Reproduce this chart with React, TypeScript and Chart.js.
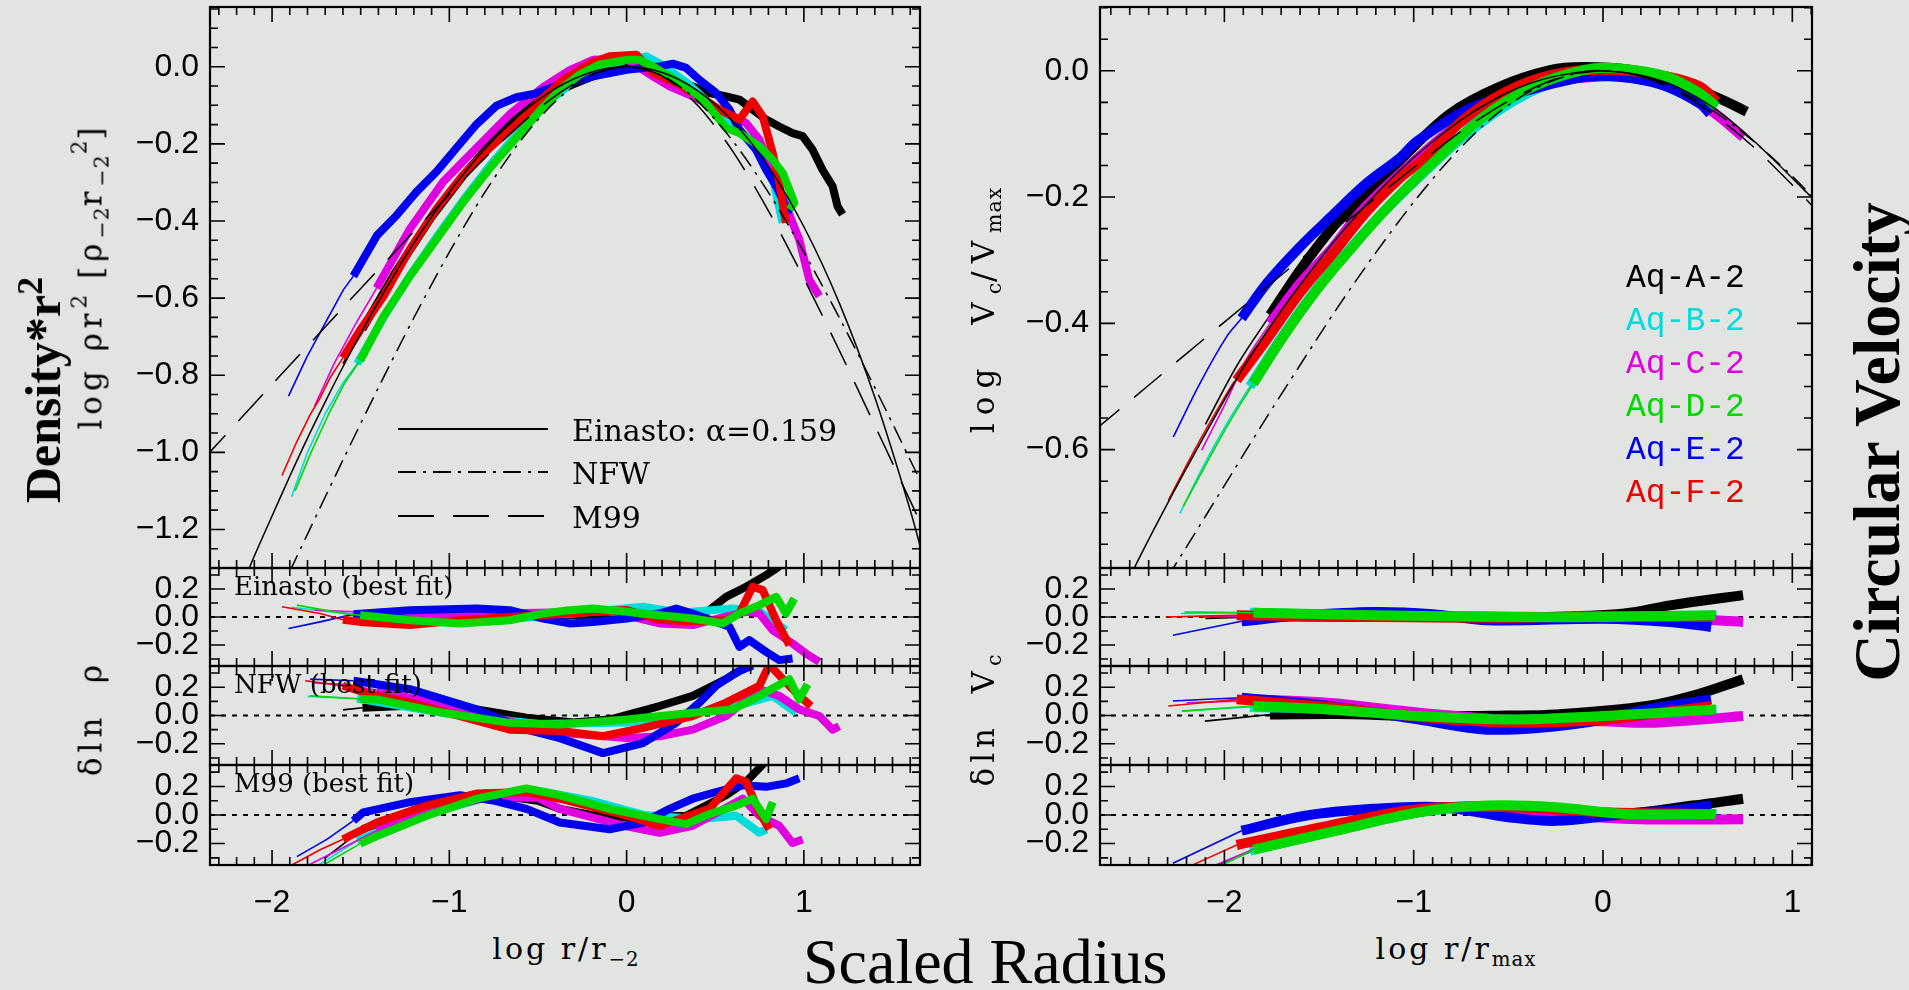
import React, { useEffect, useRef } from "react";
import { Chart, registerables } from "chart.js";

Chart.register(...registerables);

type P = [number, number];

// ---------------- categories & styling keys ----------------
const haloNames = ["Aq-A-2", "Aq-B-2", "Aq-C-2", "Aq-D-2", "Aq-E-2", "Aq-F-2"];
const haloColors = ["#000000", "#00dcdc", "#e000e0", "#00d800", "#0000ee", "#ee0000"];
const drawOrder = [0, 1, 2, 4, 5, 3];

// ---------------- tick labels ----------------
const xTickValues = [-2, -1, 0, 1];
const densTickValues = [-1.2, -1.0, -0.8, -0.6, -0.4, -0.2, 0.0];
const velTickValues = [-0.6, -0.4, -0.2, 0.0];
const residTickValues = [-0.2, 0.0, 0.2];

// radius where each halo's curve turns from thin to thick
const splitRho = [-1.49, -1.52, -1.41, -1.503, -1.541, -1.6];
const splitVel = [-1.759, -1.865, -1.759, -1.847, -1.909, -1.935];

// ---------------- left column: log rho r^2 vs log r/r-2 ----------------
const densA: P[] = [[-1.6,-0.77],[-1.49,-0.68],[-1.3,-0.53],[-1.1,-0.39],[-0.9,-0.27],[-0.7,-0.165],[-0.5,-0.09],[-0.377,-0.06],[-0.19,-0.025],[0,0.005],[0.186,-0.016],[0.373,-0.051],[0.467,-0.068],[0.561,-0.077],[0.636,-0.085],[0.711,-0.111],[0.787,-0.137],[0.861,-0.155],[0.936,-0.172],[0.993,-0.18],[1.049,-0.215],[1.105,-0.267],[1.162,-0.31],[1.19,-0.362],[1.218,-0.383]];
const densB: P[] = [[-1.89,-1.115],[-1.8,-1.0],[-1.7,-0.9],[-1.6,-0.82],[-1.52,-0.77],[-1.37,-0.65],[-1.22,-0.54],[-1.07,-0.44],[-0.92,-0.345],[-0.77,-0.255],[-0.62,-0.175],[-0.47,-0.1],[-0.3,-0.04],[-0.15,0.0],[0,0.018],[0.111,0.027],[0.2,0.005],[0.35,-0.045],[0.5,-0.11],[0.65,-0.17],[0.75,-0.215],[0.83,-0.3],[0.88,-0.405]];
const densC: P[] = [[-1.76,-0.88],[-1.65,-0.77],[-1.52,-0.66],[-1.41,-0.574],[-1.222,-0.42],[-1.034,-0.298],[-0.846,-0.21],[-0.659,-0.123],[-0.471,-0.053],[-0.321,-0.009],[-0.19,0.018],[0,0.02],[0.148,-0.025],[0.242,-0.051],[0.373,-0.077],[0.524,-0.111],[0.674,-0.146],[0.749,-0.189],[0.824,-0.275],[0.899,-0.362],[0.974,-0.448],[1.03,-0.552],[1.087,-0.595]];
const densD: P[] = [[-1.87,-1.1],[-1.78,-1.0],[-1.68,-0.9],[-1.59,-0.82],[-1.503,-0.762],[-1.372,-0.648],[-1.222,-0.543],[-1.072,-0.447],[-0.922,-0.351],[-0.771,-0.263],[-0.621,-0.184],[-0.471,-0.105],[-0.377,-0.06],[-0.265,-0.02],[-0.152,0.006],[0,0.018],[0.073,0.018],[0.148,0.001],[0.242,-0.025],[0.336,-0.051],[0.43,-0.085],[0.524,-0.137],[0.561,-0.159],[0.636,-0.172],[0.749,-0.206],[0.824,-0.241],[0.88,-0.275],[0.918,-0.319],[0.946,-0.353],[0.918,-0.37]];
const densE: P[] = [[-1.907,-0.854],[-1.804,-0.753],[-1.691,-0.657],[-1.597,-0.578],[-1.541,-0.543],[-1.409,-0.438],[-1.297,-0.385],[-1.184,-0.324],[-1.072,-0.272],[-0.959,-0.21],[-0.846,-0.149],[-0.734,-0.101],[-0.621,-0.079],[-0.518,-0.07],[-0.43,-0.055],[-0.3,-0.04],[-0.19,-0.025],[0,-0.008],[0.186,0.001],[0.261,0.008],[0.336,-0.003],[0.411,-0.034],[0.505,-0.068],[0.58,-0.111],[0.636,-0.163],[0.73,-0.215],[0.787,-0.267],[0.843,-0.31],[0.899,-0.362],[0.937,-0.375]];
const densF: P[] = [[-1.944,-1.06],[-1.86,-0.972],[-1.785,-0.902],[-1.729,-0.859],[-1.672,-0.806],[-1.6,-0.755],[-1.503,-0.683],[-1.372,-0.596],[-1.222,-0.473],[-1.072,-0.368],[-0.922,-0.28],[-0.771,-0.21],[-0.621,-0.149],[-0.508,-0.096],[-0.359,-0.035],[-0.2,0.01],[-0.096,0.027],[0.055,0.031],[0.148,-0.016],[0.28,-0.042],[0.411,-0.077],[0.524,-0.111],[0.636,-0.137],[0.711,-0.09],[0.768,-0.129],[0.824,-0.224],[0.861,-0.301],[0.899,-0.405]];

const einastoRho: P[] = [[-2.2,-1.378],[-2.1,-1.269],[-2.0,-1.165],[-1.9,-1.062],[-1.8,-0.963],[-1.7,-0.869],[-1.6,-0.778],[-1.5,-0.692],[-1.4,-0.609],[-1.3,-0.531],[-1.2,-0.457],[-1.0,-0.325],[-0.8,-0.213],[-0.6,-0.123],[-0.4,-0.056],[-0.2,-0.014],[0,0],[0.2,-0.015],[0.4,-0.062],[0.6,-0.142],[0.8,-0.259],[1.0,-0.415],[1.2,-0.613],[1.4,-0.857],[1.6,-1.15],[1.7,-1.32]];
const nfwRho: P[] = [[-1.9,-1.309],[-1.8,-1.212],[-1.6,-1.02],[-1.4,-0.832],[-1.2,-0.651],[-1.0,-0.481],[-0.8,-0.326],[-0.6,-0.193],[-0.4,-0.089],[-0.2,-0.023],[0,0],[0.2,-0.023],[0.4,-0.089],[0.6,-0.193],[0.8,-0.326],[1.0,-0.481],[1.2,-0.651],[1.4,-0.832],[1.6,-1.02],[1.7,-1.115]];
const m99Rho: P[] = [[-2.4,-1.024],[-2.0,-0.824],[-1.6,-0.625],[-1.2,-0.427],[-1.0,-0.331],[-0.8,-0.237],[-0.6,-0.15],[-0.4,-0.075],[-0.2,-0.021],[0,0],[0.2,-0.024],[0.4,-0.1],[0.6,-0.22],[0.8,-0.374],[1.0,-0.549],[1.2,-0.736],[1.4,-0.93],[1.6,-1.126],[1.7,-1.224]];

// residuals, left column (delta ln rho)
const einResA: P[] = [[-1.6,0.03],[-1.49,0.0],[-1.0,-0.01],[-0.5,0.01],[0,0.02],[0.373,0.0],[0.467,0.049],[0.561,0.144],[0.674,0.216],[0.787,0.299],[0.843,0.346],[0.9,0.4]];
const einResB: P[] = [[-1.89,0.07],[-1.7,0.04],[-1.52,0.02],[-1.0,-0.03],[-0.5,0.0],[0.092,0.073],[0.3,0.03],[0.6,0.06],[0.75,0.04],[0.899,-0.094]];
const einResC: P[] = [[-1.76,0.05],[-1.41,0.03],[-1.0,0.02],[-0.5,0.03],[-0.1,0.04],[0.186,-0.046],[0.373,-0.058],[0.55,0.0],[0.674,0.037],[0.749,0.025],[0.824,-0.094],[0.936,-0.189],[1.012,-0.261],[1.087,-0.32]];
const einResD: P[] = [[-1.86,0.085],[-1.597,0.025],[-1.503,0.013],[-1.222,-0.023],[-0.94,-0.046],[-0.659,-0.023],[-0.471,0.025],[-0.321,0.049],[-0.19,0.061],[0,0.037],[0.186,0.013],[0.373,-0.011],[0.542,-0.046],[0.636,0.025],[0.749,0.085],[0.843,0.144],[0.899,0.025],[0.946,0.132]];
const einResE: P[] = [[-1.907,-0.082],[-1.729,-0.035],[-1.541,0.02],[-1.222,0.049],[-0.846,0.061],[-0.659,0.049],[-0.471,-0.011],[-0.321,-0.046],[-0.19,-0.035],[0,-0.011],[0.186,0.025],[0.28,0.061],[0.373,0.025],[0.505,-0.035],[0.58,-0.07],[0.636,-0.213],[0.692,-0.165],[0.787,-0.249],[0.861,-0.308],[0.936,-0.296]];
const einResF: P[] = [[-1.944,0.073],[-1.729,0.025],[-1.6,-0.02],[-1.503,-0.035],[-1.222,-0.058],[-0.94,-0.023],[-0.659,0.0],[-0.321,0.025],[0,0.05],[0.186,-0.02],[0.373,-0.03],[0.561,-0.023],[0.636,0.025],[0.711,0.216],[0.768,0.192],[0.843,-0.023],[0.918,-0.201]];

const nfwResA: P[] = [[-1.6,0.04],[-1.49,0.055],[-1.2,0.07],[-0.846,0.043],[-0.565,-0.016],[-0.3,-0.05],[-0.096,-0.029],[0.186,0.067],[0.373,0.139],[0.561,0.257],[0.655,0.329],[0.72,0.4]];
const nfwResB: P[] = [[-1.8,0.135],[-1.52,0.12],[-1.0,0.01],[-0.5,-0.06],[0,-0.05],[0.4,0.02],[0.6,0.06],[0.824,0.139],[0.956,0.019]];
const nfwResC: P[] = [[-1.76,0.23],[-1.597,0.22],[-1.41,0.18],[-1.0,0.06],[-0.6,-0.06],[-0.3,-0.13],[0,-0.16],[0.186,-0.147],[0.373,-0.1],[0.561,-0.004],[0.749,0.186],[0.861,0.139],[0.974,0.043],[1.087,-0.004],[1.162,-0.1],[1.199,-0.076]];
const nfwResD: P[] = [[-1.785,0.139],[-1.503,0.117],[-1.409,0.114],[-1.034,0.019],[-0.659,-0.052],[-0.377,-0.064],[0,-0.029],[0.373,0.019],[0.599,0.043],[0.749,0.139],[0.918,0.257],[0.974,0.114],[1.021,0.221]];
const nfwResE: P[] = [[-1.785,0.257],[-1.541,0.246],[-1.222,0.186],[-0.846,0.043],[-0.565,-0.1],[-0.377,-0.16],[-0.133,-0.266],[0.092,-0.195],[0.28,-0.052],[0.411,0.091],[0.505,0.21],[0.618,0.305],[0.711,0.353]];
const nfwResF: P[] = [[-1.813,0.246],[-1.6,0.21],[-1.447,0.15],[-1.222,0.091],[-0.94,-0.004],[-0.659,-0.1],[-0.377,-0.11],[-0.133,-0.147],[0.092,-0.088],[0.373,-0.004],[0.561,0.091],[0.749,0.21],[0.805,0.36],[0.899,0.234],[0.974,0.139],[1.04,0.067]];

const m99ResA: P[] = [[-1.7,-0.3],[-1.49,-0.1],[-1.1,0.08],[-0.8,0.15],[-0.5,0.1],[-0.377,0.043],[-0.2,0.0],[0,-0.02],[0.336,-0.005],[0.561,0.138],[0.674,0.233],[0.749,0.329],[0.78,0.37]];
const m99ResB: P[] = [[-1.75,-0.36],[-1.52,-0.18],[-1.2,-0.02],[-0.8,0.12],[-0.5,0.17],[-0.2,0.1],[0.1,0.0],[0.4,-0.03],[0.618,-0.005],[0.749,-0.124],[0.79,-0.1]];
const m99ResC: P[] = [[-1.81,-0.36],[-1.41,-0.11],[-1.1,0.03],[-0.8,0.12],[-0.5,0.12],[-0.377,0.043],[0,-0.08],[0.186,-0.124],[0.373,-0.076],[0.655,0.114],[0.749,-0.005],[0.861,-0.076],[0.936,-0.196],[0.993,-0.171]];
const m99ResD: P[] = [[-1.71,-0.35],[-1.503,-0.2],[-1.409,-0.148],[-1.128,-0.005],[-0.846,0.114],[-0.565,0.186],[-0.377,0.138],[-0.096,0.043],[0.186,-0.029],[0.336,-0.064],[0.467,0.007],[0.618,0.066],[0.711,0.114],[0.787,-0.029],[0.824,0.09]];
const m99ResE: P[] = [[-1.86,-0.291],[-1.691,-0.171],[-1.541,-0.04],[-1.485,0.019],[-1.222,0.09],[-0.94,0.138],[-0.753,0.102],[-0.565,0.043],[-0.377,-0.053],[-0.096,-0.1],[0.092,-0.053],[0.242,0.043],[0.373,0.114],[0.505,0.161],[0.655,0.209],[0.787,0.197],[0.899,0.221],[0.974,0.257]];
const m99ResF: P[] = [[-1.888,-0.35],[-1.729,-0.243],[-1.6,-0.17],[-1.409,-0.053],[-1.128,0.066],[-0.846,0.15],[-0.565,0.161],[-0.377,0.114],[0,-0.005],[0.186,-0.076],[0.467,0.043],[0.618,0.257],[0.674,0.233],[0.749,0.019],[0.805,-0.1]];

// ---------------- right column: log Vc/Vmax vs log r/rmax ----------------
const velA: P[] = [[-2.1,-0.56],[-1.93,-0.465],[-1.759,-0.387],[-1.601,-0.316],[-1.425,-0.247],[-1.337,-0.222],[-1.248,-0.198],[-1.072,-0.142],[-0.808,-0.068],[-0.544,-0.025],[-0.28,0.001],[-0.104,0.006],[0.16,0.001],[0.336,-0.012],[0.512,-0.031],[0.653,-0.049],[0.759,-0.065]];
const velB: P[] = [[-2.235,-0.701],[-2.1,-0.62],[-1.98,-0.555],[-1.865,-0.5],[-1.689,-0.418],[-1.512,-0.345],[-1.337,-0.282],[-1.161,-0.224],[-0.984,-0.172],[-0.72,-0.1],[-0.456,-0.045],[-0.192,-0.01],[0,0.0],[0.2,-0.005],[0.4,-0.022],[0.6,-0.058]];
const velC: P[] = [[-2.12,-0.601],[-2.0,-0.53],[-1.88,-0.455],[-1.759,-0.4],[-1.601,-0.337],[-1.425,-0.279],[-1.284,-0.225],[-1.072,-0.163],[-0.72,-0.075],[-0.4,-0.025],[-0.016,-0.009],[0.16,-0.012],[0.336,-0.023],[0.565,-0.062],[0.741,-0.105]];
const velD: P[] = [[-2.217,-0.69],[-2.1,-0.625],[-1.98,-0.56],[-1.847,-0.495],[-1.689,-0.421],[-1.512,-0.347],[-1.337,-0.284],[-1.161,-0.224],[-0.984,-0.17],[-0.896,-0.145],[-0.632,-0.073],[-0.368,-0.025],[-0.104,0.001],[0.072,0.004],[0.336,-0.009],[0.512,-0.036],[0.6,-0.057]];
const velE: P[] = [[-2.27,-0.58],[-2.129,-0.495],[-1.988,-0.421],[-1.909,-0.392],[-1.777,-0.337],[-1.601,-0.279],[-1.425,-0.228],[-1.248,-0.178],[-1.072,-0.138],[-0.984,-0.112],[-0.72,-0.062],[-0.456,-0.036],[-0.192,-0.015],[-0.016,-0.008],[0.16,-0.012],[0.336,-0.025],[0.512,-0.052],[0.565,-0.068]];
const velF: P[] = [[-2.296,-0.68],[-2.129,-0.585],[-1.955,-0.495],[-1.935,-0.49],[-1.777,-0.426],[-1.601,-0.352],[-1.425,-0.289],[-1.248,-0.223],[-1.072,-0.17],[-0.94,-0.138],[-0.72,-0.073],[-0.456,-0.025],[-0.192,-0.002],[0.072,0.001],[0.336,-0.009],[0.512,-0.025],[0.6,-0.049]];

const einastoVel: P[] = [[-2.55,-0.84],[-2.48,-0.79],[-2.3,-0.685],[-2.1,-0.575],[-1.9,-0.47],[-1.7,-0.38],[-1.5,-0.3],[-1.3,-0.228],[-1.1,-0.165],[-0.9,-0.112],[-0.7,-0.068],[-0.5,-0.034],[-0.3,-0.012],[-0.1,-0.001],[0,0],[0.2,-0.007],[0.4,-0.027],[0.6,-0.062],[0.8,-0.112],[1.0,-0.17],[1.15,-0.215]];
const nfwVel: P[] = [[-2.4,-0.85],[-2.2,-0.754],[-2.0,-0.657],[-1.8,-0.56],[-1.6,-0.466],[-1.4,-0.374],[-1.2,-0.288],[-1.0,-0.208],[-0.8,-0.137],[-0.6,-0.078],[-0.4,-0.035],[-0.2,-0.009],[0,0],[0.2,-0.008],[0.4,-0.031],[0.6,-0.067],[0.8,-0.113],[1.0,-0.167],[1.15,-0.213]];
const m99Vel: P[] = [[-2.7,-0.573],[-2.4,-0.498],[-2.0,-0.398],[-1.6,-0.299],[-1.2,-0.201],[-0.8,-0.107],[-0.6,-0.066],[-0.4,-0.032],[-0.2,-0.008],[0,0],[0.2,-0.009],[0.4,-0.034],[0.6,-0.073],[0.8,-0.122],[1.0,-0.181],[1.15,-0.228]];

// residuals, right column (delta ln Vc)
const einVresA: P[] = [[-2.1,-0.01],[-1.759,0.005],[-1.0,0.0],[-0.3,0.0],[0.113,0.025],[0.354,0.083],[0.74,0.156]];
const einVresB: P[] = [[-2.23,0.025],[-1.865,0.03],[-1.2,0.01],[-0.5,0.0],[0,0.005],[0.6,0.01]];
const einVresC: P[] = [[-2.12,0.0],[-1.759,0.005],[-1.0,0.005],[-0.3,0.0],[0.3,-0.01],[0.595,-0.024],[0.74,-0.035]];
const einVresD: P[] = [[-2.211,0.036],[-1.847,0.03],[-1.212,0.013],[-0.489,0.0],[0,0.0],[0.595,0.013]];
const einVresE: P[] = [[-2.272,-0.13],[-1.909,-0.03],[-1.6,0.01],[-1.212,0.036],[-0.9,0.02],[-0.61,-0.024],[0,-0.012],[0.354,-0.035],[0.571,-0.071]];
const einVresF: P[] = [[-2.308,0.0],[-1.935,0.013],[-1.2,0.0],[-0.5,-0.005],[0,0.005],[0.571,0.0]];

const nfwVresA: P[] = [[-2.103,-0.04],[-1.759,0.007],[-1.4,0.01],[-0.971,-0.004],[-0.5,0.0],[-0.248,0.007],[0.233,0.067],[0.5,0.15],[0.74,0.257]];
const nfwVresB: P[] = [[-2.224,0.031],[-1.865,0.06],[-1.45,0.045],[-0.97,0.0],[-0.49,-0.03],[0,-0.01],[0.6,0.04]];
const nfwVresC: P[] = [[-2.2,0.09],[-1.759,0.11],[-1.453,0.09],[-0.971,0.02],[-0.489,-0.03],[0,-0.04],[0.233,-0.052],[0.5,-0.03],[0.74,-0.004]];
const nfwVresD: P[] = [[-2.224,0.031],[-1.847,0.067],[-1.453,0.043],[-0.971,-0.004],[-0.489,-0.029],[0,-0.004],[0.595,0.043]];
const nfwVresE: P[] = [[-2.272,0.103],[-1.909,0.126],[-1.453,0.067],[-0.971,-0.029],[-0.61,-0.1],[-0.248,-0.076],[0,-0.029],[0.233,0.043],[0.571,0.114]];
const nfwVresF: P[] = [[-2.296,0.067],[-1.935,0.114],[-1.45,0.06],[-0.97,-0.01],[-0.49,-0.05],[0,-0.03],[0.3,0.02],[0.571,0.067]];

const m99VresA: P[] = [[-2.05,-0.36],[-1.759,-0.2],[-1.45,-0.1],[-1.0,0.03],[-0.6,0.06],[-0.2,0.03],[0.113,0.01],[0.474,0.066],[0.74,0.114]];
const m99VresB: P[] = [[-2.03,-0.36],[-1.865,-0.25],[-1.45,-0.12],[-0.97,0.02],[-0.6,0.06],[-0.25,0.05],[0.1,0.01],[0.6,0.007]];
const m99VresC: P[] = [[-2.067,-0.362],[-1.759,-0.19],[-1.45,-0.09],[-1.0,0.03],[-0.6,0.06],[-0.2,0.0],[0.2,-0.03],[0.74,-0.029]];
const m99VresD: P[] = [[-2.031,-0.362],[-1.847,-0.243],[-1.453,-0.124],[-0.971,0.019],[-0.61,0.066],[-0.248,0.054],[0.113,0.007],[0.595,0.007]];
const m99VresE: P[] = [[-2.272,-0.338],[-1.909,-0.11],[-1.573,-0.005],[-1.212,0.043],[-0.85,0.054],[-0.489,-0.017],[-0.248,-0.041],[0.113,0.007],[0.354,0.031],[0.571,0.066]];
const m99VresF: P[] = [[-2.188,-0.362],[-1.935,-0.21],[-1.453,-0.076],[-0.971,0.043],[-0.489,0.054],[0,0.019],[0.571,0.007]];

// ---------------- layout / style ----------------
const BG = "#e2e4e1";
const NFW_DASH = [18, 7, 3, 7];
const M99_DASH = [36, 19];
const YW = 160, XH = 62, TP = 3, RP = 4, BP = 3;

interface ModelLine { pts: P[]; dash: number[]; }
interface PanelSpec {
  key: string;
  fx: number; fy: number; fw: number; fh: number;
  xMin: number; xMax: number; yMin: number; yMax: number;
  xLabels: number[] | null;
  yLabels: number[];
  yMinor: number; yMajor: number;
  halos: P[][];
  splits: number[];
  thickW: number;
  tension: number;
  models: ModelLine[];
  zero: boolean;
  corner?: string;
  legend?: "models" | "halos";
}

const LX0 = 210, LW = 710, RX0 = 1100, RW = 712;
const LXR: [number, number] = [-2.35, 1.655];
const RXR: [number, number] = [-2.657, 1.104];
const ROWS = [
  { fy: 7, fh: 561 },
  { fy: 568, fh: 98 },
  { fy: 666, fh: 99 },
  { fy: 765, fh: 100 },
];

const residBase = { yMin: -0.35, yMax: 0.35, yLabels: residTickValues, yMinor: 0.1, yMajor: 0.2, zero: true, models: [] as ModelLine[] };

const PANELS: PanelSpec[] = [
  {
    key: "rho", fx: LX0, fy: ROWS[0].fy, fw: LW, fh: ROWS[0].fh, xMin: LXR[0], xMax: LXR[1],
    yMin: -1.3, yMax: 0.155, xLabels: null, yLabels: densTickValues, yMinor: 0.05, yMajor: 0.2,
    halos: [densA, densB, densC, densD, densE, densF], splits: splitRho, thickW: 8, tension: 0,
    models: [{ pts: einastoRho, dash: [] }, { pts: nfwRho, dash: NFW_DASH }, { pts: m99Rho, dash: M99_DASH }],
    zero: false, legend: "models",
  },
  {
    ...residBase, key: "rhoEin", fx: LX0, fy: ROWS[1].fy, fw: LW, fh: ROWS[1].fh, xMin: LXR[0], xMax: LXR[1], xLabels: null,
    halos: [einResA, einResB, einResC, einResD, einResE, einResF], splits: splitRho, thickW: 8, tension: 0, corner: "Einasto (best fit)",
  },
  {
    ...residBase, key: "rhoNfw", fx: LX0, fy: ROWS[2].fy, fw: LW, fh: ROWS[2].fh, xMin: LXR[0], xMax: LXR[1], xLabels: null,
    halos: [nfwResA, nfwResB, nfwResC, nfwResD, nfwResE, nfwResF], splits: splitRho, thickW: 8, tension: 0, corner: "NFW (best fit)",
  },
  {
    ...residBase, key: "rhoM99", fx: LX0, fy: ROWS[3].fy, fw: LW, fh: ROWS[3].fh, xMin: LXR[0], xMax: LXR[1], xLabels: xTickValues,
    halos: [m99ResA, m99ResB, m99ResC, m99ResD, m99ResE, m99ResF], splits: splitRho, thickW: 8, tension: 0, corner: "M99 (best fit)",
  },
  {
    key: "vel", fx: RX0, fy: ROWS[0].fy, fw: RW, fh: ROWS[0].fh, xMin: RXR[0], xMax: RXR[1],
    yMin: -0.7875, yMax: 0.101, xLabels: null, yLabels: velTickValues, yMinor: 0.05, yMajor: 0.2,
    halos: [velA, velB, velC, velD, velE, velF], splits: splitVel, thickW: 10, tension: 0.35,
    models: [{ pts: einastoVel, dash: [] }, { pts: nfwVel, dash: NFW_DASH }, { pts: m99Vel, dash: M99_DASH }],
    zero: false, legend: "halos",
  },
  {
    ...residBase, key: "velEin", fx: RX0, fy: ROWS[1].fy, fw: RW, fh: ROWS[1].fh, xMin: RXR[0], xMax: RXR[1], xLabels: null,
    halos: [einVresA, einVresB, einVresC, einVresD, einVresE, einVresF], splits: splitVel, thickW: 10, tension: 0.35,
  },
  {
    ...residBase, key: "velNfw", fx: RX0, fy: ROWS[2].fy, fw: RW, fh: ROWS[2].fh, xMin: RXR[0], xMax: RXR[1], xLabels: null,
    halos: [nfwVresA, nfwVresB, nfwVresC, nfwVresD, nfwVresE, nfwVresF], splits: splitVel, thickW: 10, tension: 0.35,
  },
  {
    ...residBase, key: "velM99", fx: RX0, fy: ROWS[3].fy, fw: RW, fh: ROWS[3].fh, xMin: RXR[0], xMax: RXR[1], xLabels: xTickValues,
    halos: [m99VresA, m99VresB, m99VresC, m99VresD, m99VresE, m99VresF], splits: splitVel, thickW: 10, tension: 0.35,
  },
];

function geom(p: PanelSpec) {
  return { left: p.fx - YW, top: p.fy - TP, w: p.fw + YW + RP, h: p.fh + TP + (p.xLabels ? XH : BP) };
}

function splitThin(pts: P[], s: number): [P[], P[]] {
  let k = pts.findIndex((p) => p[0] >= s - 1e-6);
  if (k < 0) k = pts.length - 1;
  return [pts.slice(0, k + 1), pts.slice(k)];
}

const toXY = (pts: P[]) => pts.map(([x, y]) => ({ x, y }));

function fmtNum(v: number, digits: number) {
  const a = Math.abs(v) < 1e-9 ? 0 : v;
  return (a < 0 ? "\u2212" : "") + Math.abs(a).toFixed(digits);
}

function forSteps(min: number, max: number, step: number, fn: (v: number) => void) {
  const k0 = Math.ceil(min / step - 1e-6), k1 = Math.floor(max / step + 1e-6);
  for (let k = k0; k <= k1; k++) fn(k * step);
}
const isMultiple = (v: number, m: number) => Math.abs(v / m - Math.round(v / m)) < 1e-6;

function framePlugin(spec: PanelSpec) {
  return {
    id: "frame_" + spec.key,
    afterDatasetsDraw(chart: any) {
      const { ctx, chartArea: a } = chart;
      const xs = chart.scales.x, ys = chart.scales.y;
      ctx.save();
      ctx.strokeStyle = "#000";
      ctx.lineWidth = 1.6;
      ctx.setLineDash([]);
      ctx.beginPath();
      forSteps(xs.min, xs.max, 0.1, (v) => {
        const L = isMultiple(v, 1) ? 15 : 8;
        const px = xs.getPixelForValue(v);
        ctx.moveTo(px, a.bottom); ctx.lineTo(px, a.bottom - L);
        ctx.moveTo(px, a.top); ctx.lineTo(px, a.top + L);
      });
      forSteps(ys.min, ys.max, spec.yMinor, (v) => {
        const L = isMultiple(v, spec.yMajor) ? 15 : 8;
        const py = ys.getPixelForValue(v);
        ctx.moveTo(a.left, py); ctx.lineTo(a.left + L, py);
        ctx.moveTo(a.right, py); ctx.lineTo(a.right - L, py);
      });
      ctx.stroke();
      ctx.lineWidth = 2.2;
      ctx.strokeRect(a.left, a.top, a.right - a.left, a.bottom - a.top);

      ctx.fillStyle = "#000";
      ctx.textBaseline = "alphabetic";
      ctx.textAlign = "left";
      if (spec.corner) {
        ctx.font = '26px "DejaVu Serif"';
        ctx.fillText(spec.corner, a.left + 24, a.top + 27);
      }
      if (spec.legend === "models") {
        const items = [
          { dy: 422, dash: [] as number[], text: "Einasto: \u03b1=0.159" },
          { dy: 465, dash: NFW_DASH, text: "NFW" },
          { dy: 509, dash: M99_DASH, text: "M99" },
        ];
        ctx.font = '30px "DejaVu Serif"';
        for (const it of items) {
          ctx.lineWidth = 1.8;
          ctx.setLineDash(it.dash);
          ctx.beginPath();
          ctx.moveTo(a.left + 188, a.top + it.dy);
          ctx.lineTo(a.left + 338, a.top + it.dy);
          ctx.stroke();
          ctx.setLineDash([]);
          ctx.fillText(it.text, a.left + 362, a.top + it.dy + 12);
        }
      }
      if (spec.legend === "halos") {
        ctx.font = '33px "Liberation Mono"';
        haloNames.forEach((n, i) => {
          ctx.fillStyle = haloColors[i];
          ctx.fillText(n, a.left + 526, a.top + 280 + i * 43);
        });
      }
      ctx.restore();
    },
  };
}

function lineDs(pts: P[], color: string, width: number, tension: number, dash: number[] = []) {
  return {
    type: "line",
    data: toXY(pts),
    borderColor: color,
    backgroundColor: color,
    borderWidth: width,
    borderDash: dash,
    pointRadius: 0,
    pointHoverRadius: 0,
    fill: false,
    tension,
    borderCapStyle: "butt",
    borderJoinStyle: "round",
    clip: 0,
  };
}

function makeChart(canvas: HTMLCanvasElement, spec: PanelSpec) {
  const datasets: any[] = [];
  if (spec.zero) {
    datasets.push(lineDs([[spec.xMin, 0], [spec.xMax, 0]], "#000", 2, 0, [5, 6]));
  }
  for (const hi of drawOrder) {
    const [thin, thick] = splitThin(spec.halos[hi], spec.splits[hi]);
    datasets.push(lineDs(thin, haloColors[hi], 1.6, spec.tension));
    datasets.push(lineDs(thick, haloColors[hi], spec.thickW, spec.tension));
  }
  for (const m of spec.models) datasets.push(lineDs(m.pts, "#000", 1.5, 0.3, m.dash));
  const n = datasets.length;
  datasets.forEach((d, i) => (d.order = n - i));

  const hasX = !!spec.xLabels;
  const tickFont = { family: '"Liberation Sans", Arial, sans-serif', size: 32 };
  return new Chart(canvas, {
    type: "line",
    data: { datasets },
    options: {
      responsive: false,
      animation: false,
      events: [],
      layout: { padding: { top: TP, right: RP, bottom: hasX ? 0 : BP, left: 0 } },
      plugins: { legend: { display: false }, tooltip: { enabled: false }, title: { display: false } },
      scales: {
        x: {
          type: "linear",
          min: spec.xMin,
          max: spec.xMax,
          bounds: "data",
          display: hasX,
          position: "bottom",
          grid: { display: false, drawTicks: false },
          border: { display: false },
          ticks: {
            font: tickFont, color: "#000", padding: 19, autoSkip: false, maxRotation: 0, minRotation: 0,
            callback: (v: any) => fmtNum(Number(v), 0),
          },
          afterBuildTicks: (s: any) => { s.ticks = (spec.xLabels || []).map((v) => ({ value: v })); },
          afterFit: (s: any) => { s.height = hasX ? XH : 0; s.paddingLeft = 0; s.paddingRight = 0; },
        },
        y: {
          type: "linear",
          min: spec.yMin,
          max: spec.yMax,
          bounds: "data",
          position: "left",
          grid: { display: false, drawTicks: false },
          border: { display: false },
          ticks: {
            font: tickFont, color: "#000", padding: 11, autoSkip: false,
            callback: (v: any) => fmtNum(Number(v), 1),
          },
          afterBuildTicks: (s: any) => { s.ticks = spec.yLabels.map((v) => ({ value: v })); },
          afterFit: (s: any) => { s.width = YW; s.paddingTop = 0; s.paddingBottom = 0; },
        },
      },
    } as any,
    plugins: [framePlugin(spec) as any],
  } as any);
}

// ---------------- text helpers ----------------
const Sup = ({ t }: { t: string }) => (
  <span style={{ fontSize: "0.7em", position: "relative", top: "-0.7em", letterSpacing: "0.05em" }}>{t}</span>
);
const Sub = ({ t }: { t: string }) => (
  <span style={{ fontSize: "0.66em", position: "relative", top: "0.35em", letterSpacing: "0.05em" }}>{t}</span>
);

function Rot({ cx, cy, style, children }: { cx: number; cy: number; style: React.CSSProperties; children: React.ReactNode }) {
  return (
    <div style={{ position: "absolute", left: cx, top: cy, transform: "translate(-50%, -50%) rotate(-90deg)", whiteSpace: "pre", lineHeight: 1, color: "#000", ...style }}>
      {children}
    </div>
  );
}
function Hor({ cx, cy, style, children }: { cx: number; cy: number; style: React.CSSProperties; children: React.ReactNode }) {
  return (
    <div style={{ position: "absolute", left: cx, top: cy, transform: "translate(-50%, -50%)", whiteSpace: "pre", lineHeight: 1, color: "#000", ...style }}>
      {children}
    </div>
  );
}

const titleFont: React.CSSProperties = { fontFamily: '"DejaVu Serif", serif', fontSize: 30, letterSpacing: "0.16em" };

export default function App() {
  const refs = useRef<(HTMLCanvasElement | null)[]>([]);
  useEffect(() => {
    const charts = PANELS.map((p, i) => makeChart(refs.current[i] as HTMLCanvasElement, p));
    return () => charts.forEach((c) => c.destroy());
  }, []);

  return (
    <div style={{ position: "fixed", left: 0, top: 0, width: 1909, height: 990, background: BG, overflow: "hidden" }}>
      {PANELS.map((p, i) => {
        const g = geom(p);
        return (
          <canvas
            key={p.key}
            ref={(el) => { refs.current[i] = el; }}
            width={g.w}
            height={g.h}
            style={{ position: "absolute", left: g.left, top: g.top, width: g.w, height: g.h }}
          />
        );
      })}

      {/* axis titles */}
      <Rot cx={91} cy={276} style={{ ...titleFont, fontSize: 31 }}>
        {"log "}{"\u03c1"}r<Sup t="2" />{" ["}{"\u03c1"}<Sub t={"\u22122"} />r<Sub t={"\u22122"} /><Sup t="2" />]
      </Rot>
      <Rot cx={91} cy={718} style={{ ...titleFont, fontSize: 31 }}>
        {"\u03b4ln  \u03c1"}
      </Rot>
      <Rot cx={983} cy={310} style={{ ...titleFont, fontSize: 31, letterSpacing: "0.26em" }}>
        {"log  V"}<Sub t="c" />/V<Sub t="max" />
      </Rot>
      <Rot cx={983} cy={720} style={{ ...titleFont, fontSize: 31 }}>
        {"\u03b4ln  V"}<Sub t="c" />
      </Rot>
      <Hor cx={566} cy={949} style={{ ...titleFont, letterSpacing: "0.1em" }}>
        log r/r<Sub t={"\u22122"} />
      </Hor>
      <Hor cx={1456} cy={949} style={{ ...titleFont, letterSpacing: "0.1em" }}>
        log r/r<Sub t="max" />
      </Hor>

      {/* big annotation labels */}
      <Rot cx={43} cy={390} style={{ fontFamily: '"Liberation Serif", serif', fontWeight: "bold", fontSize: 50 }}>
        Density*r<span style={{ fontSize: "0.72em", position: "relative", top: "-0.5em" }}>2</span>
      </Rot>
      <Rot cx={1877} cy={442} style={{ fontFamily: '"Liberation Serif", serif', fontWeight: "bold", fontSize: 66 }}>
        Circular Velocity
      </Rot>
      <div style={{ position: "absolute", left: 803, top: 930, fontFamily: '"Liberation Serif", serif', fontSize: 64, lineHeight: 1, whiteSpace: "nowrap", color: "#000" }}>
        Scaled Radius
      </div>
    </div>
  );
}
